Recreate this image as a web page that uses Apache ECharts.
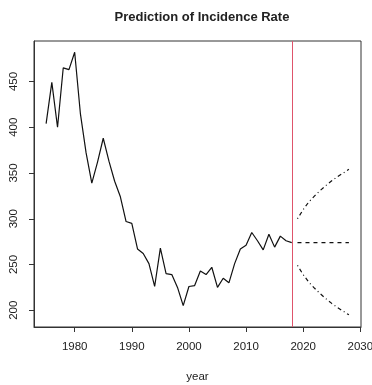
<!DOCTYPE html>
<html>
<head>
<meta charset="utf-8">
<script src="https://cdn.jsdelivr.net/npm/echarts@6/dist/echarts.min.js"></script>
<style>
html,body{margin:0;padding:0;background:#fff;}
#chart{width:372px;height:385px;}
</style>
</head>
<body>
<div id="chart"></div>
<script>
// Observed incidence rate
const obsYears = [1975,1976,1977,1978,1979,1980,1981,1982,1983,1984,1985,1986,1987,1988,1989,1990,1991,1992,1993,1994,1995,1996,1997,1998,1999,2000,2001,2002,2003,2004,2005,2006,2007,2008,2009,2010,2011,2012,2013,2014,2015,2016,2017,2018];
const obsValues = [404,449,400,465,463,482,415,372,339,362,388,363,341,324,297,295,267,262,251,226,268,240,239,225,205,226,227,243,239,247,225,235,230,251,267,271,285,276,266,283,269,281,276,274];
// Forecast
const fcYears = [2019,2020,2021,2022,2023,2024,2025,2026,2027,2028];
const fcMean = [274,274,274,274,274,274,274,274,274,274];
const fcUpper = [300,310,318.5,325,331,336.5,341.5,346,350,354];
const fcLower = [249,239,230.5,224,218,212.5,207.5,203,199,195];
// Axis ticks
const xTicks = [1980,1990,2000,2010,2020,2030];
const yTicks = [200,250,300,350,400,450];
const cutYear = 2018;
const titleText = 'Prediction of Incidence Rate';
const xName = 'year';

const zip = (a, b) => a.map((v, i) => [v, b[i]]);
const font = 'Liberation Sans, Arial, Helvetica, sans-serif';
const redStyle = {color: '#DF536B', width: 1, type: 'solid'};

const chart = echarts.init(document.getElementById('chart'), null, {renderer: 'canvas'});
chart.setOption({
  animation: false,
  backgroundColor: '#fff',
  title: {
    text: titleText,
    left: 197, top: 6, textAlign: 'center',
    textStyle: {fontFamily: font, fontWeight: 'bold', fontSize: 13, color: '#222'}
  },
  grid: {left: 34, right: 11, top: 41, bottom: 58, containLabel: false, outerBoundsMode: 'none',
         show: true, borderColor: '#333', borderWidth: 1, backgroundColor: 'transparent'},
  xAxis: {
    type: 'value', min: 1972.88, max: 2030.12,
    name: xName, nameLocation: 'middle', nameGap: 44,
    nameTextStyle: {fontFamily: font, fontSize: 11.5, color: '#222'},
    axisLine: {show: true, onZero: false, lineStyle: {color: '#333', width: 1}},
    axisTick: {show: true, length: 5, customValues: xTicks, lineStyle: {color: '#333'}},
    axisLabel: {customValues: xTicks, margin: 14, fontFamily: font, fontSize: 11.5, color: '#222', formatter: v => String(v)},
    splitLine: {show: false}
  },
  yAxis: {
    type: 'value', min: 181.7, max: 494.3,
    axisLine: {show: true, onZero: false, lineStyle: {color: '#333', width: 1}},
    axisTick: {show: true, length: 5, customValues: yTicks, lineStyle: {color: '#333'}},
    axisLabel: {customValues: yTicks, rotate: 90, margin: 14, fontFamily: font, fontSize: 11.5, color: '#222', formatter: v => String(v)},
    splitLine: {show: false}
  },
  series: [
    {
      type: 'line', data: zip(obsYears, obsValues), symbol: 'none',
      lineStyle: {color: '#111', width: 1.2},
      markLine: {
        silent: true, symbol: 'none', label: {show: false},
        lineStyle: redStyle,
        emphasis: {disabled: true},
        data: [{xAxis: cutYear, lineStyle: redStyle}]
      }
    },
    {
      type: 'line', data: zip(fcYears, fcMean), symbol: 'none',
      lineStyle: {color: '#111', width: 1.2, type: [4, 4]}
    },
    {
      type: 'line', data: zip(fcYears, fcUpper), symbol: 'none',
      lineStyle: {color: '#111', width: 1.2, type: [1, 3, 4, 3]}
    },
    {
      type: 'line', data: zip(fcYears, fcLower), symbol: 'none',
      lineStyle: {color: '#111', width: 1.2, type: [1, 3, 4, 3]}
    }
  ]
});
</script>
</body>
</html>
